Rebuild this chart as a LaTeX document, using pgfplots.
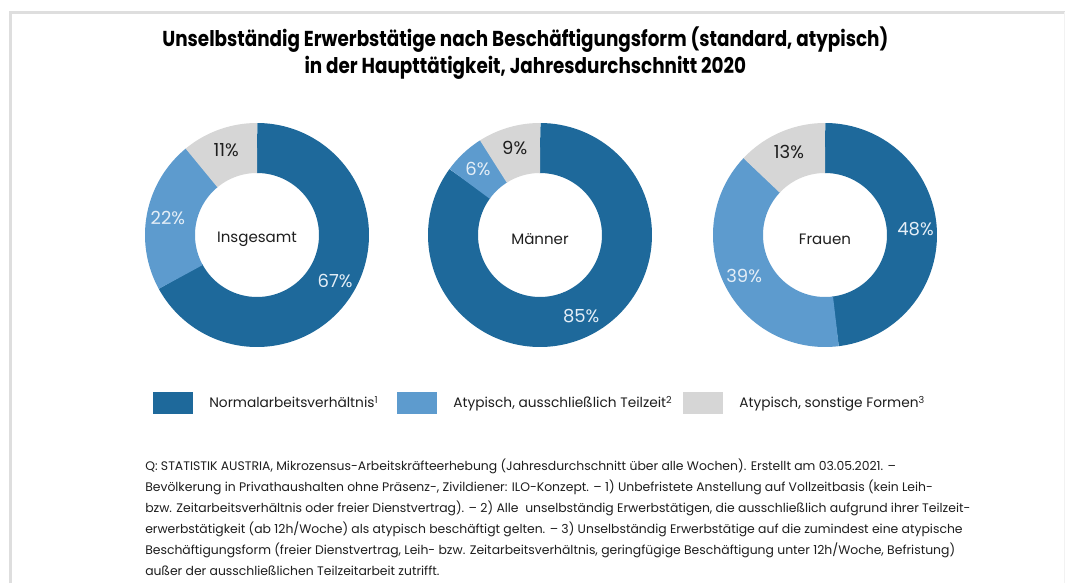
\documentclass[border=0pt]{standalone}
\usepackage{pgfplots}
\pgfplotsset{compat=1.18}
\usepackage{pgfplotstable}
\usepackage{fontspec}
\setmainfont{Poppins}
\newfontfamily\titlefont{Poppins}[FakeStretch=0.85]

\definecolor{cDark}{RGB}{30,105,155}
\definecolor{cLight}{RGB}{93,155,206}
\definecolor{cGray}{RGB}{214,214,214}
\definecolor{cLab}{RGB}{228,238,247}
\definecolor{cTxt}{RGB}{30,30,30}
\definecolor{cFrame}{RGB}{222,222,222}

% shares in percent: Normalarbeitsverhaeltnis, ausschl. Teilzeit, sonstige Formen
\pgfplotstableread{
group normal teilzeit sonstige
Insgesamt 67 22 11
Maenner 85 6 9
Frauen 48 39 13
}\shares

\pgfplotsset{
  donut/.style={hide axis, scale only axis, width=168pt, height=168pt,
    xmin=-1, xmax=1, ymin=-1, ymax=1, anchor=center, clip=false},
  ring/.style={draw=#1, line width=37.5pt, line cap=butt, line join=round,
    samples=121, no markers},
}
\def\rmid{0.7768}
\def\rlab{0.81}

\newcommand\donut[3]{%
  \pgfplotstablegetelem{#1}{normal}\of\shares \edef\vA{\pgfplotsretval}%
  \pgfplotstablegetelem{#1}{teilzeit}\of\shares \edef\vB{\pgfplotsretval}%
  \pgfplotstablegetelem{#1}{sonstige}\of\shares \edef\vC{\pgfplotsretval}%
  \pgfmathsetmacro\aA{90-3.6*\vA}%
  \pgfmathsetmacro\aB{\aA-3.6*\vB}%
  \pgfmathsetmacro\aC{\aB-3.6*\vC}%
  \pgfmathsetmacro\aAo{\aA-0.3}%
  \pgfmathsetmacro\aBo{\aB-0.3}%
  \pgfmathsetmacro\mA{(90+\aA)/2}%
  \pgfmathsetmacro\mB{(\aA+\aB)/2}%
  \pgfmathsetmacro\mC{(\aB+\aC)/2}%
  \begin{axis}[donut, at={(#2,261pt)}]
    \addplot[ring=cDark, domain=\aAo:90] ({\rmid*cos(x)},{\rmid*sin(x)});
    \addplot[ring=cLight, domain=\aBo:\aA] ({\rmid*cos(x)},{\rmid*sin(x)});
    \addplot[ring=cGray, domain=\aC:\aB] ({\rmid*cos(x)},{\rmid*sin(x)});
    \node[text=cLab, font=\fontsize{13.5}{15}\selectfont] at (axis cs:{\rlab*cos(\mA)},{\rlab*sin(\mA)}) {\vA\%};
    \node[text=cLab, font=\fontsize{13.5}{15}\selectfont] at (axis cs:{\rlab*cos(\mB)},{\rlab*sin(\mB)}) {\vB\%};
    \node[text=cTxt, font=\fontsize{13.5}{15}\selectfont] at (axis cs:{\rlab*cos(\mC)},{\rlab*sin(\mC)}) {\vC\%};
    \node[text=cTxt, font=\fontsize{11.3}{13}\selectfont] at (axis cs:0,-0.04) {#3};
  \end{axis}%
}

\begin{document}
\begin{tikzpicture}
\useasboundingbox (0pt,0pt) rectangle (798.75pt,437.25pt);
\fill[white] (0pt,0pt) rectangle (798.75pt,437.25pt);
% frame
\draw[cFrame, line width=2.25pt] (7.875pt,0pt) -- (7.875pt,427.9pt) -- (798.75pt,427.9pt);
\draw[cFrame!40, line width=0.75pt] (798.2pt,0pt) -- (798.2pt,427.9pt);

% title
\node[anchor=base, font=\titlefont\bfseries\fontsize{16.2}{19}\selectfont] at (394pt,402pt)
  {Unselbständig Erwerbstätige nach Beschäftigungsform (standard, atypisch)};
\node[anchor=base, font=\titlefont\bfseries\fontsize{16.2}{19}\selectfont] at (394pt,381.75pt)
  {in der Haupttätigkeit, Jahresdurchschnitt 2020};

\donut{0}{192.75pt}{Insgesamt}
\donut{1}{405pt}{Männer}
\donut{2}{618.75pt}{Frauen}

% legend
\begin{axis}[at={(0pt,0pt)}, anchor=south west, hide axis, scale only axis,
  width=798.75pt, height=437.25pt, xmin=0, xmax=1, ymin=0, ymax=1,
  legend columns=3,
  legend style={at={(0.1437,0.3088)}, anchor=west, draw=none, fill=none,
    inner sep=0pt, column sep=0pt, nodes={inner sep=0pt, anchor=west, text=cTxt},
    font=\fontsize{10.3}{12}\selectfont},
  legend image code/.code={\fill[#1] (0pt,-8.25pt) rectangle (30pt,8.25pt);}]
\addlegendimage{fill=cDark, draw=none}
\addlegendentry{\hspace*{12pt}\makebox[141pt][l]{Normalarbeitsverhältnis\textsuperscript{1}}}
\addlegendimage{fill=cLight, draw=none}
\addlegendentry{\hspace*{12pt}\makebox[172.5pt][l]{Atypisch, ausschließlich Teilzeit\textsuperscript{2}}}
\addlegendimage{fill=cGray, draw=none}
\addlegendentry{\hspace*{12pt}Atypisch, sonstige Formen\textsuperscript{3}}
\end{axis}

% footnote
\begin{scope}[every node/.style={anchor=base west, inner sep=0pt, text=cTxt, font=\fontsize{9.3}{11}\selectfont}]
\node at (108.75pt,84.75pt) {Q: STATISTIK AUSTRIA, Mikrozensus-Arbeitskräfteerhebung (Jahresdurchschnitt über alle Wochen). Erstellt am 03.05.2021. –};
\node at (108.75pt,69pt) {Bevölkerung in Privathaushalten ohne Präsenz-, Zivildiener: ILO-Konzept. – 1) Unbefristete Anstellung auf Vollzeitbasis (kein Leih-};
\node at (108.75pt,53.25pt) {bzw. Zeitarbeitsverhältnis oder freier Dienstvertrag). – 2) Alle \ unselbständig Erwerbstätigen, die ausschließlich aufgrund ihrer Teilzeit-};
\node at (108.75pt,37.5pt) {erwerbstätigkeit (ab 12h/Woche) als atypisch beschäftigt gelten. – 3) Unselbständig Erwerbstätige auf die zumindest eine atypische};
\node at (108.75pt,21.75pt) {Beschäftigungsform (freier Dienstvertrag, Leih- bzw. Zeitarbeitsverhältnis, geringfügige Beschäftigung unter 12h/Woche, Befristung)};
\node at (108.75pt,6pt) {außer der ausschließlichen Teilzeitarbeit zutrifft.};
\end{scope}
\end{tikzpicture}
\end{document}
